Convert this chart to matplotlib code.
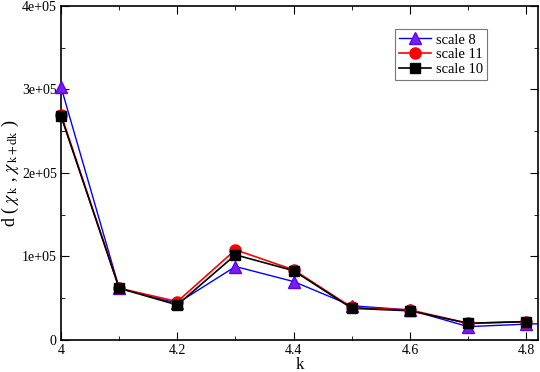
import matplotlib
matplotlib.use("Agg")
import matplotlib.pyplot as plt
from matplotlib.lines import Line2D
from matplotlib.ticker import MultipleLocator, FuncFormatter

plt.rcParams['font.family'] = ['Liberation Serif', 'DejaVu Serif']
plt.rcParams['mathtext.fontset'] = 'stix'

# data
k_blue = [4.0, 4.1, 4.2, 4.3, 4.4, 4.5, 4.6, 4.7, 4.8, 4.9]
scale8 = [303000, 62000, 44000, 88000, 70000, 41000, 36000, 16000, 19000, 21000]
k = [4.0, 4.1, 4.2, 4.3, 4.4, 4.5, 4.6, 4.7, 4.8]
scale11 = [270000, 62000, 46000, 108000, 84000, 39000, 36000, 20000, 22000]
scale10 = [268000, 62000, 42000, 102000, 83000, 38000, 35000, 20000, 22000]

fig = plt.figure(figsize=(5.4, 3.72), dpi=100)
ax = fig.add_axes([0.113, 0.086, 0.883, 0.898])

styles = [
    dict(color='#0000ff', lw=1, marker='^', ms=8, mfc='#7a1ee8', mec='#5a00ff'),
    dict(color='#ff0000', lw=1.2, marker='o', ms=8, mfc='#ff0000', mec='#ff0000'),
    dict(color='#000000', lw=1.2, marker='s', ms=7, mfc='#000000', mec='#000000'),
]
series = [(k_blue, scale8, 'scale 8'), (k, scale11, 'scale 11'), (k, scale10, 'scale 10')]

handles = []
for (xs, ys, lab), st in zip(series, styles):
    ax.plot(xs, ys, color=st['color'], lw=st['lw'])
    # markers are not clipped at the frame, but only the ones inside the range
    mx = [x for x in xs if x <= 4.82]
    my = [y for x, y in zip(xs, ys) if x <= 4.82]
    ax.plot(mx, my, ls='none', marker=st['marker'], ms=st['ms'],
            mfc=st['mfc'], mec=st['mec'], clip_on=False, zorder=3)
    handles.append(Line2D([], [], **st, label=lab))

ax.set_xlim(4.0, 4.82)
ax.set_ylim(0, 400000)
ax.xaxis.set_major_locator(MultipleLocator(0.2))
ax.xaxis.set_minor_locator(MultipleLocator(0.1))
ax.yaxis.set_major_locator(MultipleLocator(100000))
ax.yaxis.set_minor_locator(MultipleLocator(50000))
ax.xaxis.set_major_formatter(FuncFormatter(lambda v, p: '%g' % v))
ax.yaxis.set_major_formatter(FuncFormatter(
    lambda v, p: '0' if v == 0 else '%de+05' % round(v / 1e5)))
ax.tick_params(which='both', direction='in', top=True, right=True,
               labelsize=10, pad=3)
ax.tick_params(which='major', length=6)
ax.tick_params(which='minor', length=3)
for s in ax.spines.values():
    s.set_linewidth(1.2)

ax.set_xlabel('k', fontsize=12, labelpad=0)
ax.set_ylabel(r'd ( $\chi_{\,\mathrm{k}}$ , $\chi_{\,\mathrm{k+dk}}$ )',
              fontsize=13, labelpad=1)

leg = ax.legend(handles=handles, loc='upper left', bbox_to_anchor=(0.70, 0.931),
                fontsize=10.5, frameon=True, fancybox=False, edgecolor='#555555',
                handlelength=2.2, handletextpad=0.3, borderpad=0.3,
                labelspacing=0.1, borderaxespad=0)
leg.get_frame().set_linewidth(0.8)

fig.savefig('out.png', dpi=100)
